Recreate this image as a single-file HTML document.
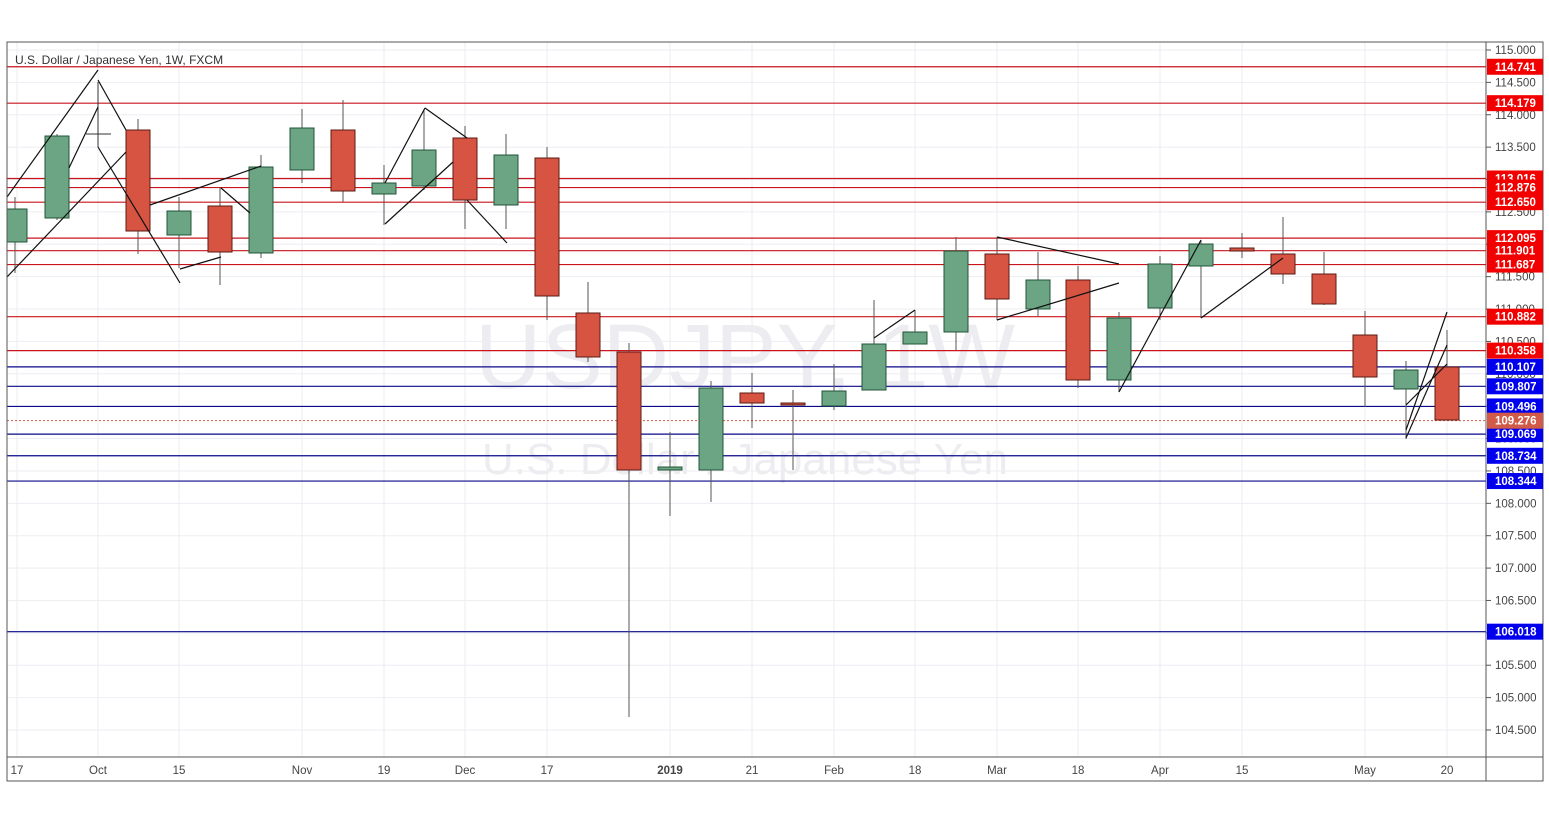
<!DOCTYPE html>
<html><head><meta charset="utf-8"><style>
body{margin:0;background:#fff;}
svg{display:block;font-family:"Liberation Sans",sans-serif;}
</style></head><body>
<svg id="s" width="1549" height="819" viewBox="0 0 1549 819" xmlns="http://www.w3.org/2000/svg"></svg>
<script>
const s=document.getElementById('s');let h='';
const Y=p=>50+(115-p)*64.76;
h+='<defs><clipPath id="cp"><rect x="7" y="42" width="1479" height="715"/></clipPath></defs>';
h+='<rect x="0" y="0" width="1549" height="819" fill="#fff"/>';
h+='<g clip-path="url(#cp)">';
for(let p=104.5;p<=115.001;p+=0.5){const y=Y(p);h+=`<line x1="7" x2="1486" y1="${y}" y2="${y}" stroke="#eceef2" stroke-width="1"/>`;}
const xl=[[17,'17'],[98,'Oct'],[179,'15'],[302,'Nov'],[384,'19'],[465,'Dec'],[547,'17'],[670,'2019'],[752,'21'],[834,'Feb'],[915,'18'],[997,'Mar'],[1078,'18'],[1160,'Apr'],[1242,'15'],[1365,'May'],[1447,'20']];
xl.forEach(([x])=>h+=`<line x1="${x}" x2="${x}" y1="42" y2="757" stroke="#eceef2"/>`);
h+='<text x="745" y="388" font-size="92" fill="#ededf1" text-anchor="middle">USDJPY, 1W</text>';
h+='<text x="745" y="474" font-size="44" fill="#ededf1" text-anchor="middle">U.S. Dollar / Japanese Yen</text>';
const red=[114.741,114.179,113.016,112.876,112.650,112.095,111.901,111.687,110.882,110.358];
const blue=[110.107,109.807,109.496,109.069,108.734,108.344,106.018];
red.forEach(p=>h+=`<line x1="7" x2="1486" y1="${Y(p)}" y2="${Y(p)}" stroke="#c9141e" stroke-width="1.2"/>`);
blue.forEach(p=>h+=`<line x1="7" x2="1486" y1="${Y(p)}" y2="${Y(p)}" stroke="#0a0a8a" stroke-width="1.2"/>`);
h+=`<line x1="7" x2="1486" y1="${Y(109.276)}" y2="${Y(109.276)}" stroke="#d25a48" stroke-dasharray="2,2"/>`;
const C=[[15,197,209,242,273,1],[57,134,136,218,220,1],[98,82,133,135,147,1],[138,119,130,231,254,0],[179,197,211,235,268,1],[220,187,206,252,285,0],[261,155,167,253,258,1],[302,109,128,170,183,1],[343,100,130,191,202,0],[384,165,183,194,225,1],[424,109,150,186,190,1],[465,126,138,200,229,0],[506,134,155,205,229,1],[547,147,158,296,320,0],[588,282,313,357,362,0],[629,343,352,470,717,0],[670,432,467,470,516,1],[711,381,388,470,502,1],[752,373,393,403,428,0],[793,390,403,405,470,0],[834,364,391,406,410,1],[874,300,344,390,390,1],[915,310,332,344,344,1],[956,237,251,332,350,1],[997,237,254,299,320,0],[1038,252,280,309,316,1],[1078,266,280,380,388,0],[1119,312,318,380,392,1],[1160,256,264,308,320,1],[1201,240,244,266,318,1],[1242,233,248,251,258,0],[1283,217,254,274,284,0],[1324,252,274,304,305,0],[1365,311,335,377,407,0],[1406,361,370,389,439,1],[1447,330,367,420,420,0]];
C.forEach(([x,hi,t,b,lo,g])=>{
 if(x===98){h+=`<line x1="98" x2="98" y1="82" y2="147" stroke="#333"/><line x1="86" x2="111" y1="134" y2="134" stroke="#333"/>`;return;}
 const f=g?'#6ba583':'#d75442';
 h+=`<line x1="${x}" x2="${x}" y1="${hi}" y2="${lo}" stroke="#555"/>`;
 h+=`<rect x="${x-12}" y="${t}" width="24" height="${Math.max(b-t,2)}" fill="${f}" stroke="${g?'#225437':'#5b1a13'}" stroke-width="1"/>`;
});
const L=[[7,277,126,152],[7,197,98,70],[98,80,126,130],[98,147,180,283],[69,168,98,107],[150,205,261,166],[180,269,221,257],[221,188,250,213],[385,224,453,162],[385,183,425,108],[425,108,467,138],[467,200,507,243],[874,338,915,310],[997,237,1119,264],[997,320,1119,283],[1119,392,1201,240],[1201,318,1283,258],[1406,430,1447,312],[1406,438,1447,345],[1406,405,1447,364]];
L.forEach(([a,b,c,d])=>h+=`<line x1="${a}" y1="${b}" x2="${c}" y2="${d}" stroke="#111" stroke-width="1.2"/>`);
h+='</g>';
h+='<rect x="7" y="42" width="1536" height="739" fill="none" stroke="#555"/>';
h+='<line x1="1486" x2="1486" y1="42" y2="781" stroke="#555"/><line x1="7" x2="1543" y1="757" y2="757" stroke="#555"/>';
for(let p=104.5;p<=115.001;p+=0.5){const y=Y(p);h+=`<line x1="1486" x2="1491" y1="${y}" y2="${y}" stroke="#555"/><text x="1495" y="${y+4}" font-size="11.5" fill="#444">${p.toFixed(3)}</text>`;}
const tag=(p,c,tc)=>{const y=Y(p);h+=`<rect x="1487" y="${y-8}" width="56" height="16" fill="${c}"/><text x="1495" y="${y+4}" font-size="11.5" font-weight="bold" fill="${tc}">${p.toFixed(3)}</text>`;};
red.forEach(p=>tag(p,'#f20000','#fff'));blue.forEach(p=>tag(p,'#0000ee','#fff'));tag(109.276,'#d25a48','#fff');
xl.forEach(([x,t])=>h+=`<text x="${x}" y="774" font-size="11.5" fill="#444" text-anchor="middle" ${t==='2019'?'font-weight="bold"':''}>${t}</text>`);
h+='<text x="15" y="64" font-size="12" fill="#333">U.S. Dollar / Japanese Yen, 1W, FXCM</text>';
s.innerHTML=h;
</script>
</body></html>
